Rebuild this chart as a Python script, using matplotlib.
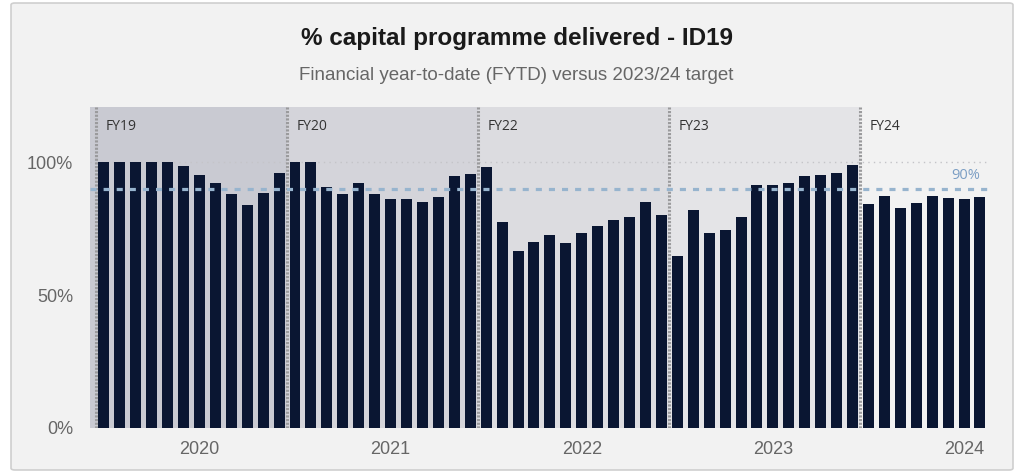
import matplotlib
matplotlib.use('Agg')
import matplotlib.pyplot as plt
from matplotlib.patches import FancyBboxPatch

# Monthly FYTD % of capital programme delivered
fy19 = [100, 100, 100, 100, 100, 98.8, 95.2, 92.2, 88.0, 83.9, 88.6, 95.9]
fy20 = [100, 100, 90.8, 88.3, 92.2, 88.3, 86.3, 86.2, 85.1, 86.9, 95.0, 95.5]
fy22 = [98.2, 77.6, 66.8, 70.2, 72.6, 69.7, 73.3, 76.1, 78.2, 79.6, 85.0, 80.2]
fy23 = [64.7, 82.0, 73.4, 74.7, 79.4, 91.6, 91.6, 92.4, 94.9, 95.4, 96.2, 99.1]
fy24 = [84.2, 87.3, 83.0, 84.9, 87.5, 86.8, 86.3, 87.1]

fy_labels = ['FY19', 'FY20', 'FY22', 'FY23', 'FY24']
fy_series = [fy19, fy20, fy22, fy23, fy24]
band_colors = ['#c9cad2', '#d4d4da', '#dcdce0', '#e4e4e7', None]

year_labels = ['2020', '2021', '2022', '2023', '2024']
year_pos = [6, 18, 30, 42, 54]

target = 90

FONT = 'Liberation Sans'

values = [v for s in fy_series for v in s]
x = list(range(len(values)))

fig = plt.figure(figsize=(10.18, 4.75), dpi=100)
fig.patch.set_facecolor('white')
fig.patches.append(FancyBboxPatch(
    (11 / 1018, 1 - 470 / 475), 1002 / 1018, 467 / 475,
    boxstyle='round,pad=0,rounding_size=0.004', transform=fig.transFigure,
    facecolor='#f2f2f2', edgecolor='#cfcfcf', linewidth=1.2, zorder=-5))

ax = fig.add_axes([90 / 1018, 1 - 428 / 475, 899.5 / 1018, 321.3 / 475])
ax.set_zorder(2)
ax.set_facecolor('none')
ax.set_xlim(-0.87, 55.6)
ax.set_ylim(0, 121)

# financial-year bands and separators
start = 0
for label, series, color in zip(fy_labels, fy_series, band_colors):
    left = start - 0.5
    right = start + len(series) - 0.5
    if color:
        lo = -0.87 if start == 0 else left
        ax.axvspan(lo, right, color=color, zorder=0, lw=0)
    ax.axvline(left, color='#9a9a9c', lw=2.2, ls=(0, (0.7, 0.5)), zorder=3)
    ax.text(left + 0.6, 113.5, label, fontsize=10, color='#333333',
            family='Open Sans', va='center', ha='left')
    start += len(series)

ax.axhline(100, color='#c4c4c8', lw=1, ls=(0, (1, 3)), zorder=1)

ax.bar(x, values, width=0.69, color='#0a1632', zorder=2)

ax.axhline(target, color='#97b4ce', lw=2.3, ls=(0, (1.9, 2.2)), zorder=4)
ax.text(55.0, target + 5, f'{target}%', color='#7b9ec4', fontsize=10.5,
        family='Open Sans', ha='right', va='center')

ax.set_yticks([0, 50, 100])
ax.set_yticklabels(['0%', '50%', '100%'], family=FONT, fontsize=13,
                   color='#666666')
ax.set_xticks(year_pos)
ax.set_xticklabels(year_labels, family=FONT, fontsize=13, color='#666666')
ax.tick_params(length=0)
ax.tick_params(axis='y', pad=12)
ax.tick_params(axis='x', pad=9)
for s in ax.spines.values():
    s.set_visible(False)

fig.text(517 / 1018, 1 - 38 / 475, '% capital programme delivered - ID19',
         family=FONT, fontweight='bold', fontsize=17.5, color='#1a1a1a',
         ha='center', va='center')
fig.text(516 / 1018, 1 - 75 / 475,
         'Financial year-to-date (FYTD) versus 2023/24 target',
         family=FONT, fontsize=13.5, color='#666666', ha='center', va='center')

fig.savefig('out.png', dpi=100, facecolor=fig.get_facecolor())
